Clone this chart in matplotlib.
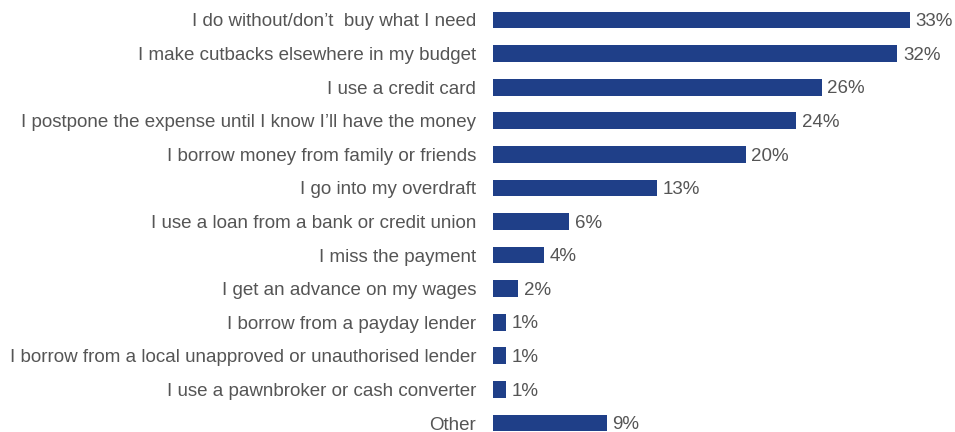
import numpy as np
import matplotlib.pyplot as plt

plt.rcParams['font.family'] = ['Liberation Sans', 'DejaVu Sans']

responses = [
    "I do without/don\u2019t  buy what I need",
    "I make cutbacks elsewhere in my budget",
    "I use a credit card",
    "I postpone the expense until I know I\u2019ll have the money",
    "I borrow money from family or friends",
    "I go into my overdraft",
    "I use a loan from a bank or credit union",
    "I miss the payment",
    "I get an advance on my wages",
    "I borrow from a payday lender",
    "I borrow from a local unapproved or unauthorised lender",
    "I use a pawnbroker or cash converter",
    "Other",
]
share = [33, 32, 26, 24, 20, 13, 6, 4, 2, 1, 1, 1, 9]

bar_color = '#1f3f88'
text_color = '#555555'
fsize = 13.5

fig = plt.figure(figsize=(9.55, 4.32), dpi=100)
ax = fig.add_axes([493 / 955, 0, 452 / 955, 1])

ypos = np.arange(len(responses))
ax.barh(ypos, share, height=0.5, color=bar_color)

# percentage labels just past the end of each bar
for y, v in zip(ypos, share):
    ax.text(v + 0.45, y + 0.05, f"{v}%", va='center', ha='left',
            fontsize=fsize, color=text_color)

ax.set_yticks(ypos)
ax.set_yticklabels(responses, fontsize=fsize, color=text_color)
ax.tick_params(axis='y', length=0, pad=12)
ax.set_xticks([])
ax.set_xlim(0, 452 / 12.64)
ax.set_ylim(12 + 9 / 33.6, -20 / 33.6)
for s in ax.spines.values():
    s.set_visible(False)

fig.savefig('out.png', dpi=100, facecolor='white')
